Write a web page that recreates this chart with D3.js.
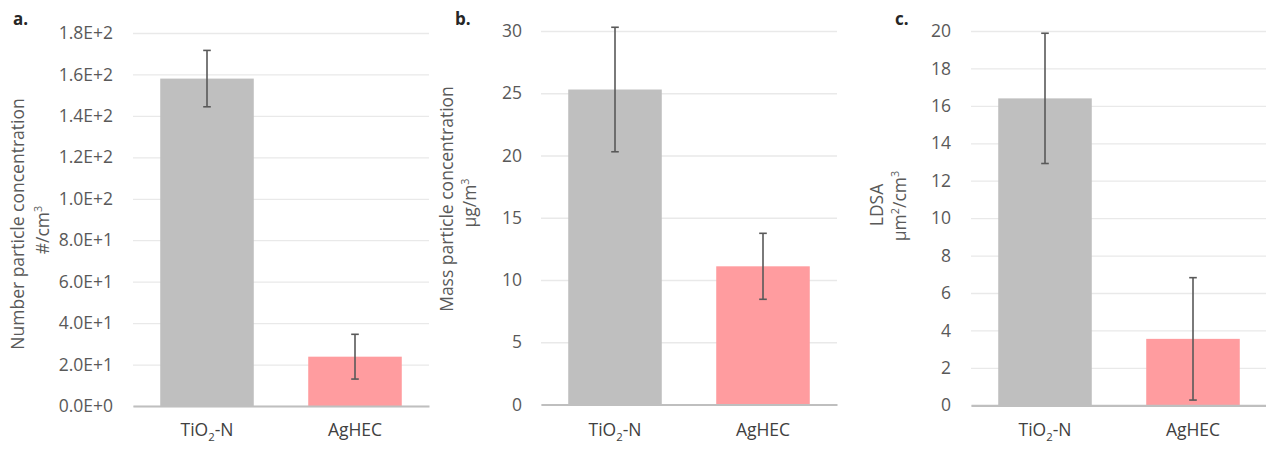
<!DOCTYPE html>
<html>
<head>
<meta charset="utf-8">
<script src="https://cdn.jsdelivr.net/npm/d3@7"></script>
<style>
  html, body { margin: 0; padding: 0; background: #fff; }
  svg { display: block; }
  text { font-family: "Open Sans", "Noto Sans", sans-serif; }
</style>
</head>
<body>
<svg id="chart" width="1266" height="449"></svg>
<script>
// ---- data ----
const categories = ["TiO2-N", "AgHEC"];
const barColors = ["#bfbfbf", "#ff9c9f"];

const numberValues = [158, 23.8];
const numberErrors = [13.6, 10.8];
const numberTicks = [0, 20, 40, 60, 80, 100, 120, 140, 160, 180];

const massValues = [25.3, 11.1];
const massErrors = [5.0, 2.65];
const massTicks = [0, 5, 10, 15, 20, 25, 30];

const ldsaValues = [16.4, 3.55];
const ldsaErrors = [3.48, 3.27];
const ldsaTicks = [0, 2, 4, 6, 8, 10, 12, 14, 16, 18, 20];

const panelLetters = ["a.", "b.", "c."];

// ---- layout ----
const svg = d3.select("#chart");
const fontSize = 17.5;

const panels = [
  {
    letter: panelLetters[0], letterX: 13,
    values: numberValues, errors: numberErrors, ticks: numberTicks,
    max: 180, fmt: v => d3.format(".1e")(v).toUpperCase(),
    x0: 133, x1: 429, yTop: 33, yBot: 406, labelGap: 20,
    title: ["Number particle concentration", ["#/cm", "3"]],
    tx: [18, 43], ty: [224, 230]
  },
  {
    letter: panelLetters[1], letterX: 455,
    values: massValues, errors: massErrors, ticks: massTicks,
    max: 30, fmt: d3.format("d"),
    x0: 541, x1: 837, yTop: 31, yBot: 404.5, labelGap: 19,
    title: ["Mass particle concentration", ["µg/m", "3"]],
    tx: [447, 470], ty: [199, 203]
  },
  {
    letter: panelLetters[2], letterX: 895,
    values: ldsaValues, errors: ldsaErrors, ticks: ldsaTicks,
    max: 20, fmt: d3.format("d"),
    x0: 971, x1: 1267, yTop: 31, yBot: 405.3, labelGap: 20,
    title: ["LDSA", ["µm", "2", "/cm", "3"]],
    tx: [877, 900], ty: [205, 206]
  }
];

function writeLabel(sel, label) {
  // render digit after letters as subscript (e.g., TiO2)
  const m = label.match(/^([A-Za-z]+)(\d)(.*)$/);
  if (m) {
    sel.append("tspan").text(m[1]);
    sel.append("tspan").attr("font-size", fontSize * 0.65).attr("dy", 5).text(m[2]);
    sel.append("tspan").attr("dy", -5).text(m[3]);
  } else {
    sel.text(label);
  }
}

panels.forEach(p => {
  const g = svg.append("g");
  const x = d3.scaleBand().domain(categories).range([p.x0, p.x1])
    .paddingInner(0.368).paddingOuter(0.184);
  const y = d3.scaleLinear().domain([0, p.max]).range([p.yBot, p.yTop]);

  // gridlines + tick labels via axis
  const ax = g.append("g")
    .attr("transform", `translate(${p.x0},0)`)
    .call(d3.axisLeft(y).tickValues(p.ticks).tickFormat(p.fmt)
      .tickSize(-(p.x1 - p.x0)).tickPadding(p.labelGap));
  ax.select(".domain").remove();
  ax.selectAll(".tick line").attr("stroke", "#e9e9e9").attr("stroke-width", 1.3);
  ax.selectAll(".tick text").attr("fill", "#595959")
    .attr("font-size", fontSize).style("font-family", "'Open Sans', sans-serif");

  // bars
  g.selectAll("rect.bar").data(p.values).join("rect")
    .attr("class", "bar")
    .attr("x", (d, i) => x(categories[i]))
    .attr("width", x.bandwidth())
    .attr("y", d => y(d))
    .attr("height", d => y(0) - y(d))
    .attr("fill", (d, i) => barColors[i]);

  // x axis line
  const xa = g.append("g").attr("transform", `translate(0,${y(0)})`)
    .call(d3.axisBottom(x).tickSize(0).tickFormat(""));
  xa.select(".domain").attr("stroke", "#bfbfbf").attr("stroke-width", 2.2);

  // category labels
  categories.forEach((c, i) => {
    const t = g.append("text")
      .attr("x", x(c) + x.bandwidth() / 2)
      .attr("y", 436)
      .attr("text-anchor", "middle")
      .attr("fill", "#404040")
      .attr("font-size", fontSize);
    writeLabel(t, c);
  });

  // error bars
  const cap = 3.8;
  p.values.forEach((v, i) => {
    const cx = x(categories[i]) + x.bandwidth() / 2;
    const hi = y(v + p.errors[i]), lo = y(v - p.errors[i]);
    const eg = g.append("g").attr("stroke", "#595959").attr("stroke-width", 1.6);
    eg.append("line").attr("x1", cx).attr("x2", cx).attr("y1", hi).attr("y2", lo);
    eg.append("line").attr("x1", cx - cap).attr("x2", cx + cap).attr("y1", hi).attr("y2", hi);
    eg.append("line").attr("x1", cx - cap).attr("x2", cx + cap).attr("y1", lo).attr("y2", lo);
  });

  // y titles
  g.append("text")
    .attr("transform", `translate(${p.tx[0]},${p.ty[0]}) rotate(-90)`)
    .attr("text-anchor", "middle").attr("dy", "0.35em")
    .attr("fill", "#595959").attr("font-size", fontSize)
    .text(p.title[0]);
  const t2 = g.append("text")
    .attr("transform", `translate(${p.tx[1]},${p.ty[1]}) rotate(-90)`)
    .attr("text-anchor", "middle").attr("dy", "0.35em")
    .attr("fill", "#595959").attr("font-size", fontSize);
  const sup = 7;
  p.title[1].forEach((part, k) => {
    const ts = t2.append("tspan").text(part);
    if (k % 2 === 1) ts.attr("font-size", fontSize * 0.62).attr("dy", -sup);
    else if (k > 0) ts.attr("dy", sup);
  });

  // panel letter
  g.append("text").attr("x", p.letterX).attr("y", 25)
    .attr("fill", "#262626").attr("font-size", 17).attr("font-weight", "bold")
    .text(p.letter);
});
</script>
</body>
</html>
